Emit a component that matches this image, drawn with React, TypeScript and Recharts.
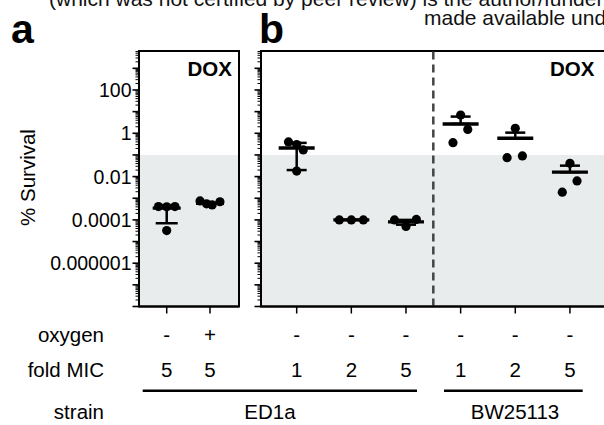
import React from 'react';
import { ScatterChart, Scatter, XAxis, YAxis, ReferenceArea, ReferenceLine, ErrorBar } from 'recharts';

const FONT = '"Liberation Sans", Arial, Helvetica, sans-serif';

// ---------- Panel a (ED1a, oxygen -/+ at 5x MIC) ----------
const oxygenA = ['-', '+'];
const foldMicA = ['5', '5'];
const pointXA = [0.81, 1.0, 1.19, 1.0, 1.77, 1.92, 2.05, 2.23];
const pointYA = [4.1e-4, 4.0e-4, 4.1e-4, 3.2e-5, 7.5e-4, 5.5e-4, 4.9e-4, 6.9e-4];
const meanA = [3.5e-4, 5.9e-4];
const lowA = [7e-5, 5.9e-4];
const highA = [4.6e-4, 5.9e-4];

// ---------- Panel b (ED1a and BW25113, no oxygen) ----------
const oxygenB = ['-', '-', '-', '-', '-', '-'];
const foldMicB = ['1', '2', '5', '1', '2', '5'];
const pointXB = [0.85, 1.0, 1.12, 1.0, 1.78, 2.0, 2.22, 2.79, 3.0, 3.19, 4.0, 4.13, 3.86, 5.0, 4.85, 5.13, 6.0, 6.13, 5.86];
const pointYB = [0.4, 0.3, 0.17, 0.018, 1e-4, 1e-4, 1e-4, 1e-4, 5e-5, 1.05e-4, 7, 1.5, 0.37, 1.7, 0.075, 0.09, 0.041, 0.0063, 0.0019];
const meanB = [0.21, 1e-4, 8.1e-5, 2.7, 0.59, 0.016];
const lowB = [0.02, 1e-4, 6e-5, 2.7, 0.59, 0.016];
const highB = [0.36, 1e-4, 1e-4, 5.9, 1.07, 0.032];
const strainDivider = 3.5;

const strainNames = ['ED1a', 'BW25113'];
const rowNames = ['oxygen', 'fold MIC', 'strain'];
const panelLetters = ['a', 'b'];
const drugName = 'DOX';
const yTitle = '% Survival';
const headerLines = [
  '(which was not certified by peer review) is the author/funder, who has granted bioRxiv a license to display the preprint in perpetuity. It is',
  'made available under aCC-BY-NC-ND 4.0 International license.',
];

// ---------- Axis ----------
const yMin = 1e-8;
const yMax = Math.pow(10, 3.8);
const shadeTop = 0.1;
const majorTicks = [1e-6, 1e-4, 1e-2, 1, 100];
const majorLabels = ['0.000001', '0.0001', '0.01', '1', '100'];
const decadeTicks = [1e-8, 1e-7, 1e-6, 1e-5, 1e-4, 1e-3, 1e-2, 1e-1, 1, 10, 100, 1000];
const minorTicks: number[] = [];
decadeTicks.forEach((d) => {
  [2, 3, 4, 5, 6, 7, 8, 9].forEach((m) => {
    if (m * d < yMax) minorTicks.push(m * d);
  });
});
const allTicks = [...decadeTicks, ...minorTicks].sort((a, b) => a - b);
const xDomainA: [number, number] = [0.36, 2.67];
const xDomainB: [number, number] = [0.347, 6.66];

const pointsA = pointXA.map((x, i) => ({ x, y: pointYA[i] }));
const meansA = meanA.map((m, i) => ({ x: i + 1, y: m, err: [m - lowA[i], highA[i] - m] }));
const pointsB = pointXB.map((x, i) => ({ x, y: pointYB[i] }));
const meansB = meanB.map((m, i) => ({ x: i + 1, y: m, err: [m - lowB[i], highB[i] - m] }));

const Dot = (p: any) => <circle cx={p.cx} cy={p.cy} r={4.6} fill="#000" />;
const meanShape = (half: number) => (p: any) => (
  <line x1={p.cx - half} x2={p.cx + half} y1={p.cy} y2={p.cy} stroke="#000" strokeWidth={3.4} />
);

const makeXTick = (oxygen: string[], fold: string[]) => (p: any) => {
  const i = Math.round(p.payload.value) - 1;
  return (
    <g>
      <text x={p.x} y={342} textAnchor="middle" fontFamily={FONT} fontSize={20.5} fill="#000">{oxygen[i]}</text>
      <text x={p.x} y={377} textAnchor="middle" fontFamily={FONT} fontSize={20.5} fill="#000">{fold[i]}</text>
    </g>
  );
};

const makeYTick = (showLabels: boolean) => (p: any) => {
  const v = p.payload.value;
  const mi = majorTicks.findIndex((t) => Math.abs(Math.log10(t) - Math.log10(v)) < 1e-6);
  const isDecade = decadeTicks.some((t) => Math.abs(Math.log10(t) - Math.log10(v)) < 1e-6);
  const len = isDecade ? 6.5 : 3.5;
  return (
    <g>
      <line x1={p.x - len} x2={p.x} y1={p.y} y2={p.y} stroke="#000" strokeWidth={isDecade ? 1.6 : 1} />
      {showLabels && mi >= 0 ? (
        <text x={p.x - 7.5} y={p.y} dy="0.36em" textAnchor="end" fontFamily={FONT} fontSize={19.5} fill="#000">{majorLabels[mi]}</text>
      ) : null}
    </g>
  );
};

const yAxisEl = (showLabels: boolean) => (
  <YAxis yAxisId="main" type="number" dataKey="y" scale="log" domain={[yMin, yMax]} allowDataOverflow ticks={allTicks} interval={0}
    width={1} axisLine={{ stroke: '#000', strokeWidth: 2 }} tickSize={0} tickMargin={0} tickLine={false} tick={makeYTick(showLabels)} />
);

const PanelA = () => (
  <ScatterChart width={604} height={425} margin={{ top: 51, left: 138, right: 365, bottom: 117.5 }}>
    <XAxis type="number" dataKey="x" domain={xDomainA} allowDataOverflow ticks={[1, 2]} interval={0} height={1} tickSize={7}
      axisLine={{ stroke: '#000', strokeWidth: 2 }} tickLine={{ stroke: '#000', strokeWidth: 1.5 }} tick={makeXTick(oxygenA, foldMicA)} />
    {yAxisEl(true)}
    <ReferenceArea yAxisId="main" x1={xDomainA[0]} x2={xDomainA[1]} y1={yMin} y2={shadeTop} fill="#e9ecec" fillOpacity={1} stroke="none" />
    <ReferenceArea yAxisId="main" x1={xDomainA[0]} x2={xDomainA[1]} y1={yMin} y2={yMax} fill="none" stroke="#000" strokeWidth={2} />
    <Scatter yAxisId="main" data={pointsA} shape={Dot} isAnimationActive={false} />
    <Scatter yAxisId="main" data={meansA} shape={meanShape(14)} isAnimationActive={false}>
      <ErrorBar dataKey="err" direction="y" width={11} stroke="#000" strokeWidth={2.5} isAnimationActive={false} />
    </Scatter>
  </ScatterChart>
);

const PanelB = () => (
  <ScatterChart width={612} height={425} margin={{ top: 51, left: 260, right: 6, bottom: 117.5 }}>
    <XAxis type="number" dataKey="x" domain={xDomainB} allowDataOverflow ticks={[1, 2, 3, 4, 5, 6]} interval={0} height={1} tickSize={7}
      axisLine={{ stroke: '#000', strokeWidth: 2 }} tickLine={{ stroke: '#000', strokeWidth: 1.5 }} tick={makeXTick(oxygenB, foldMicB)} />
    {yAxisEl(false)}
    <ReferenceArea yAxisId="main" x1={xDomainB[0]} x2={xDomainB[1]} y1={yMin} y2={shadeTop} fill="#e9ecec" fillOpacity={1} stroke="none" />
    <ReferenceLine yAxisId="main" x={strainDivider} stroke="#444" strokeWidth={2.5} strokeDasharray="8 5" />
    <ReferenceArea yAxisId="main" x1={xDomainB[0]} x2={xDomainB[1]} y1={yMin} y2={yMax} fill="none" stroke="#000" strokeWidth={2} />
    <Scatter yAxisId="main" data={pointsB} shape={Dot} isAnimationActive={false} />
    <Scatter yAxisId="main" data={meansB} shape={meanShape(18)} isAnimationActive={false}>
      <ErrorBar dataKey="err" direction="y" width={10} stroke="#000" strokeWidth={2.5} isAnimationActive={false} />
    </Scatter>
  </ScatterChart>
);

const Overlay = () => (
  <svg width={604} height={425} style={{ position: 'absolute', left: 0, top: 0, pointerEvents: 'none' }} fontFamily={FONT}>
    <text x={49} y={6} fontSize={21} fill="#111">{headerLines[0]}</text>
    <text x={424} y={25} fontSize={21} fill="#111">{headerLines[1]}</text>
    <text x={11} y={43} fontSize={41} fontWeight="bold" fill="#000">{panelLetters[0]}</text>
    <text x={259} y={43} fontSize={41} fontWeight="bold" fill="#000">{panelLetters[1]}</text>
    <text x={232} y={75.5} fontSize={20.5} fontWeight="bold" textAnchor="end" fill="#000">{drugName}</text>
    <text x={550} y={75.5} fontSize={20.5} fontWeight="bold" fill="#000">{drugName}</text>
    <text x={35} y={177.5} fontSize={20.5} textAnchor="middle" transform="rotate(-90 35 177.5)" fill="#000">{yTitle}</text>
    <text x={104} y={342} fontSize={20.5} textAnchor="end" fill="#000">{rowNames[0]}</text>
    <text x={104} y={377} fontSize={20.5} textAnchor="end" fill="#000">{rowNames[1]}</text>
    <text x={104} y={419} fontSize={20.5} textAnchor="end" fill="#000">{rowNames[2]}</text>
    <line x1={142.7} x2={417} y1={390.7} y2={390.7} stroke="#000" strokeWidth={2.5} />
    <line x1={444} x2={582.7} y1={390.7} y2={390.7} stroke="#000" strokeWidth={2.5} />
    <text x={270} y={419} fontSize={20.5} textAnchor="middle" fill="#000">{strainNames[0]}</text>
    <text x={515} y={419} fontSize={20.5} textAnchor="middle" fill="#000">{strainNames[1]}</text>
  </svg>
);

export default function App() {
  return (
    <div style={{ position: 'absolute', left: 0, top: 0, width: 604, height: 425, overflow: 'hidden', background: '#fff' }}>
      <div style={{ position: 'absolute', left: 0, top: 0 }}><PanelA /></div>
      <div style={{ position: 'absolute', left: 0, top: 0 }}><PanelB /></div>
      <Overlay />
    </div>
  );
}
